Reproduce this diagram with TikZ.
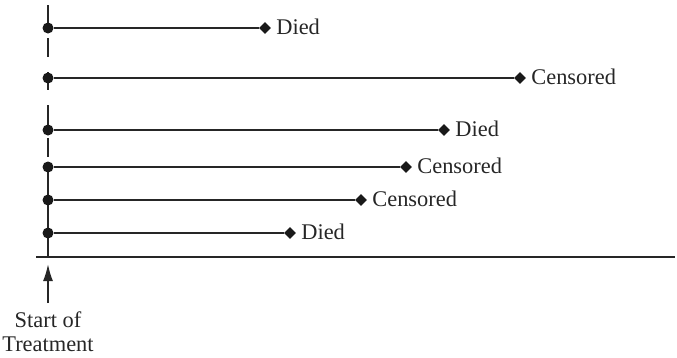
\documentclass[tikz,border=0pt]{standalone}
\usepackage{fontspec}
\setmainfont{Liberation Serif}
\usetikzlibrary{arrows.meta,shapes.geometric}
\begin{document}
\begin{tikzpicture}[x=1pt,y=-1pt,
  lw/.style={line width=1.8pt,black!85},
  startdot/.style={circle,fill=black!90,inner sep=0pt,minimum size=11pt},
  enddia/.style={diamond,fill=black!90,inner sep=0pt,minimum size=12pt},
  txt/.style={font=\fontsize{22.4}{24}\selectfont,text=black!85},
  lab/.style={txt,anchor=west,inner sep=0pt}]
\useasboundingbox (0,0) rectangle (677,357);
% vertical dashed start line
\foreach \a/\b in {5/31,38/57,72/90,105/134,138/157,162/257}
  \draw[lw] (48,\a) -- (48,\b);
% axis
\coordinate (axL) at (36,257);
\coordinate (axR) at (675,257);
\draw[lw] (axL) -- (axR);
% rows
\foreach \i/\y/\x/\t in {1/28/265/Died,2/78/520/Censored,3/130/444/Died,4/167/406/Censored,5/200/361/Censored,6/233/290/Died}{
  \node[startdot] (s\i) at (48,\y) {};
  \node[enddia] (e\i) at (\x,\y) {};
  \draw[lw] (s\i) -- (e\i);
  \node[lab] (l\i) at ([xshift=5pt,yshift=1pt]e\i.east) {\t};
}
% arrow
\coordinate (atail) at (48,303);
\coordinate (ahead) at (48,264);
\draw[lw,-{Latex[length=17pt,width=10pt]}] (atail) -- (ahead);
\node[txt,align=center,inner sep=0pt] (st) at (48,332) {Start of\\Treatment};
\end{tikzpicture}
\end{document}
